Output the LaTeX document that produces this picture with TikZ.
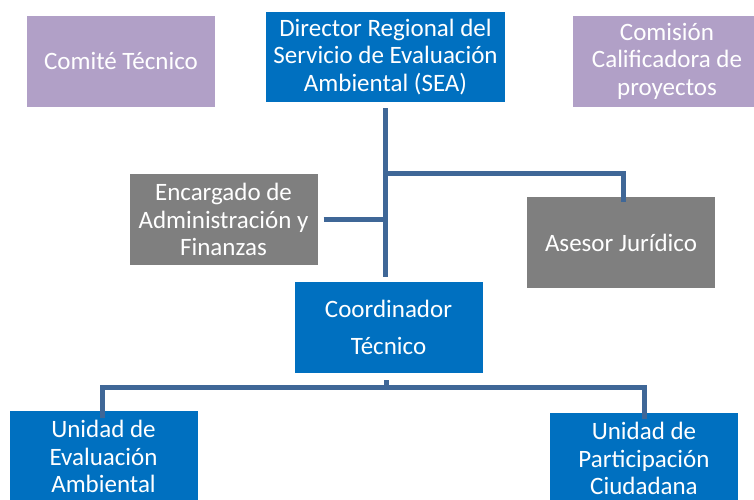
\documentclass[tikz,border=0pt]{standalone}
\usepackage{fontspec}
\setmainfont{Carlito}
\definecolor{azulsea}{HTML}{0070C0}
\definecolor{grissea}{HTML}{7F7F7F}
\definecolor{lilasea}{HTML}{B1A0C7}
\definecolor{lineasea}{HTML}{3F6797}
\tikzset{
  caja/.style={minimum width=188pt, minimum height=91pt, inner sep=0pt,
    text=white, align=center, font=\fontsize{25}{27.5}\selectfont},
  azul/.style={caja, fill=azulsea},
  gris/.style={caja, fill=grissea},
  lila/.style={caja, fill=lilasea},
  enlace/.style={draw=lineasea, line width=5pt}
}
\begin{document}
\begin{tikzpicture}[x=1pt, y=-1pt]
      \path[use as bounding box] (0,0) rectangle (754,499);
      \clip (0,0) rectangle (754,499);
      \node[lila] at (121,61) (comite) {Comité Técnico};
      \node[azul, minimum width=239pt, minimum height=90pt] at (385.5,57) (director)
        {Director Regional del\\Servicio de Evaluación\\Ambiental (SEA)};
      \node[lila] at (667,61) (comision) {Comisión\\Calificadora de\\proyectos};
      \node[gris] at (223.5,219.5) (encargado) {Encargado de\\Administración y\\Finanzas};
      \node[gris] at (621,242.5) (asesor) {Asesor Jurídico};
      \node[azul, font=\fontsize{25}{37}\selectfont] at (388.5,327.5) (coord) {Coordinador\\Técnico};
      \node[azul] at (103.5,456.5) (unidadeval) {Unidad de\\Evaluación\\Ambiental};
      \node[azul] at (644,458.5) (unidadpart) {Unidad de\\Participación\\Ciudadana};
      % lineas
      \coordinate (ramaase) at (385.5,173);
      \coordinate (ramauni) at (386,387.5);
      \path[enlace, shorten <=6pt, shorten >=5pt] (director.south) -- (director.south |- coord.north);
      \path[enlace] (ramaase) -| ([xshift=2pt,yshift=-5pt]asesor.north);
      \path[enlace, shorten <=6pt] (encargado.east) -- (encargado.east -| director.south);
      \path[enlace, shorten <=7pt] (coord.south -| ramauni) -- (ramauni);
      \path[enlace] (ramauni) -| ([xshift=-1.5pt,yshift=-7pt]unidadeval.north);
      \path[enlace] (ramauni) -| ([yshift=-6pt]unidadpart.north);
    \end{tikzpicture}
\end{document}
